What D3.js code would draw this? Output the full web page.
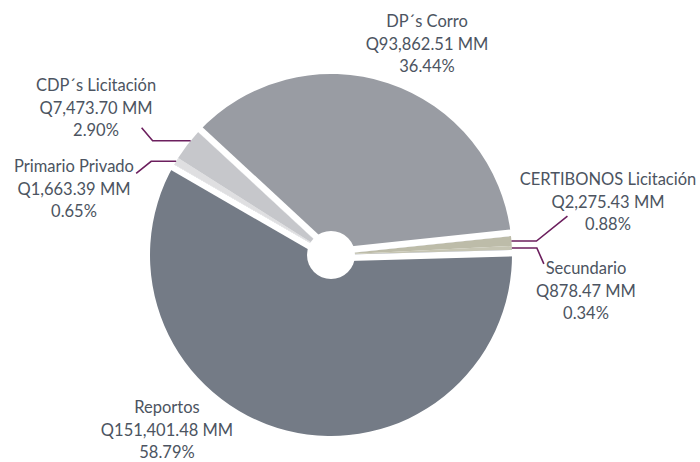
<!DOCTYPE html>
<meta charset="utf-8">
<html>
  <style>
    body, html{ margin: 0; background: #fff;}
    .label text{
      font-family: Lato, "Noto Sans", sans-serif;
      font-weight: 400;
      font-size: 16.5px;
      fill: #4c5461;
      text-anchor: middle;
    }
    .leader{
      fill: none;
      stroke: #6c1f5e;
      stroke-width: 1.6;
    }
    .gap{
      stroke: #fff;
      stroke-width: 6.5;
    }
  </style>
  <body>
    <svg></svg>
    <script src="https://cdn.jsdelivr.net/npm/d3@7"></script>
    <script>
// data, clockwise from the DP´s Corro slice
var categories = ['DP´s Corro', 'CERTIBONOS Licitación', 'Secundario', 'Reportos', 'Primario Privado', 'CDP´s Licitación']
  , amounts = [93862.51, 2275.43, 878.47, 151401.48, 1663.39, 7473.70]
  , percents = [36.44, 0.88, 0.34, 58.79, 0.65, 2.90]
  , colors = ['#999ca3', '#bdbca9', '#c6c5b3', '#747b86', '#dfdfe1', '#c6c7cb']

var w = 700, h = 462
  , cx = 331, cy = 255
  , R = 181, hole = 24
  , svg = d3.select('svg').attr('width', w).attr('height', h)
  , g = svg.append('g').attr('transform', 'translate(' + cx + ',' + cy + ')')

var start = -47.2 * Math.PI / 180
  , pie = d3.pie().sort(null).startAngle(start).endAngle(start + 2 * Math.PI)
  , arcs = pie(percents)
  , arc = d3.arc().innerRadius(0).outerRadius(R)
  , polar = function(a, r){ return [r * Math.sin(a), -r * Math.cos(a)] }

g.selectAll('path.slice').data(arcs).enter().append('path')
  .attr('class', 'slice')
  .attr('d', arc)
  .attr('fill', function(d, i){ return colors[i] })

// white gaps at the start of these slices, pushed into the big neighbour
// (side +1 = clockwise, -1 = counter-clockwise)
var gaps = [{ i: 0, side: 1 }, { i: 1, side: -1 }, { i: 3, side: 1 }, { i: 4, side: -1 }]
  , gw = 6.5
g.selectAll('line.gap').data(gaps).enter().append('line')
  .attr('class', 'gap')
  .each(function(d){
    var a = arcs[d.i].startAngle
      , ox = d.side * gw / 2 * Math.cos(a), oy = d.side * gw / 2 * Math.sin(a)
      , p = polar(a, R + 6)
    d3.select(this).attr('x1', ox).attr('y1', oy).attr('x2', p[0] + ox).attr('y2', p[1] + oy)
  })

g.append('circle').attr('r', hole).attr('fill', '#fff')

// label layout: text centre x, first baseline, leader shape
var layout = [
    { x: 427, y: 27 }
  , { x: 608, y: 185, frac: 0.5, elbow: 25, end: [31, -25] }
  , { x: 586, y: 274, frac: 0.5, elbow: 25, end: [7, 16] }
  , { x: 167, y: 413 }
  , { x: 74, y: 172, frac: 0.5, elbow: -25, end: [-15, 12] }
  , { x: 96, y: 91, frac: 0.65, elbow: -38, end: [-11, -13] }
]
var fmtQ = d3.format(',.2f'), fmtP = d3.format('.2f')

arcs.forEach(function(d, i){
  var L = layout[i]
  if (L.elbow){
    var a = d.startAngle + (d.endAngle - d.startAngle) * L.frac
      , p = polar(a, R)
      , px = cx + p[0], py = cy + p[1]
      , ex = px + L.elbow
    svg.append('polyline').attr('class', 'leader')
      .attr('points', [[px, py], [ex, py], [ex + L.end[0], py + L.end[1]]].join(' '))
  }
  var t = svg.append('g').attr('class', 'label').append('text')
  ;[categories[i], 'Q' + fmtQ(amounts[i]) + ' MM', fmtP(percents[i]) + '%'].forEach(function(s, k){
    t.append('tspan').attr('x', L.x).attr('y', L.y + k * 22.7).text(s)
  })
})
    </script>
  </body>
</html>
